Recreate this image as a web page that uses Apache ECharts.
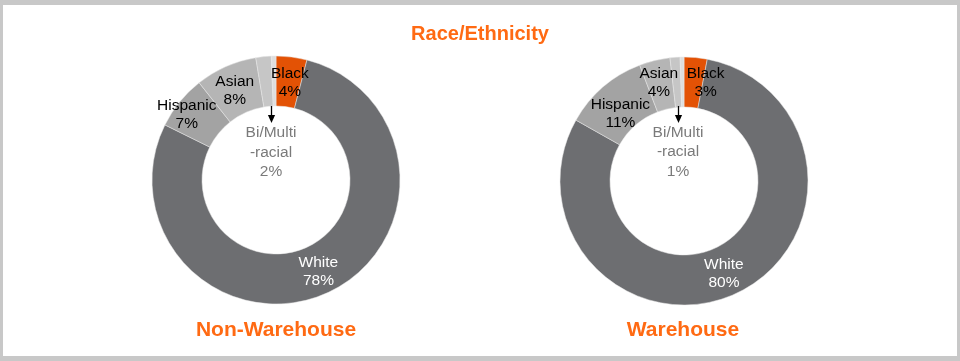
<!DOCTYPE html>
<html><head><meta charset="utf-8">
<script src="https://cdn.jsdelivr.net/npm/echarts@6/dist/echarts.min.js"></script>
<style>html,body{margin:0;padding:0;background:#fff}#c{width:960px;height:361px}</style>
</head><body><div id="c"></div>
<script>
const categories = ['Black', 'White', 'Hispanic', 'Asian', 'Bi/Multi-racial', 'Other'];
const labelNames = ['Black', 'White', 'Hispanic', 'Asian', 'Bi/Multi\n-racial', ''];
const nonWarehouse = [4, 78, 7, 8, 2, 0.6];
const warehouse = [3, 80, 11, 4, 1.3, 0.5];
const chartTitles = ['Non-Warehouse', 'Warehouse'];
const mainTitle = 'Race/Ethnicity';

const colors = ['#e35205', '#6d6e71', '#a3a3a3', '#b5b5b5', '#c6c6c6', '#dedede'];
const labelColors = ['#000', '#fff', '#000', '#000', '#7a7a7a', '#000'];
const offsetsL = [[1, 4], [0, -1], [-10, -1.5], [0, 4.5], [-5, -27.5], [0, 0]];
const offsetsR = [[12, 3], [-3, 0], [3, 10], [-1, 1], [-6, -29], [0, 0]];
const centers = [[276, 180], [684, 181]];

function buildData(values, offsets) {
  return categories.map((c, i) => ({
    name: c,
    value: values[i],
    itemStyle: { color: colors[i] },
    label: {
      show: i !== 5,
      position: i === 4 ? 'center' : 'inside',
      color: labelColors[i],
      offset: offsets[i],
      lineHeight: i === 4 ? 19.5 : 18,
      formatter: labelNames[i] + '\n' + Math.round(values[i]) + '%'
    }
  }));
}

function series(values, offsets, center) {
  return {
    type: 'pie',
    radius: [74, 124],
    center: center,
    startAngle: 90,
    clockwise: true,
    avoidLabelOverlap: false,
    labelLayout: { hideOverlap: false },
    silent: true,
    itemStyle: { borderColor: '#e8e8e8', borderWidth: 0.5 },
    label: { fontFamily: 'Liberation Sans, Arial, sans-serif', fontSize: 15.5 },
    labelLine: { show: false },
    emphasis: { disabled: true },
    data: buildData(values, offsets)
  };
}

function arrow(x) {
  return [
    { type: 'line', shape: { x1: x, y1: 106, x2: x, y2: 117 }, style: { stroke: '#000', lineWidth: 1.3 }, z: 10 },
    { type: 'polygon', shape: { points: [[x - 3.6, 115], [x + 3.6, 115], [x, 123]] }, style: { fill: '#000' }, z: 10 }
  ];
}

const chart = echarts.init(document.getElementById('c'), null, { renderer: 'canvas' });
chart.setOption({
  animation: false,
  title: {
    text: mainTitle, left: 'center', top: 19,
    textStyle: { color: '#ff6a13', fontSize: 20, fontWeight: 'bold', fontFamily: 'Liberation Sans, Arial, sans-serif' }
  },
  series: [series(nonWarehouse, offsetsL, centers[0]), series(warehouse, offsetsR, centers[1])],
  graphic: [
    { type: 'rect', shape: { x: 0, y: 0, width: 960, height: 5 }, style: { fill: '#c8c8c8' } },
    { type: 'rect', shape: { x: 0, y: 356, width: 960, height: 5 }, style: { fill: '#c8c8c8' } },
    { type: 'rect', shape: { x: 0, y: 0, width: 3, height: 361 }, style: { fill: '#c8c8c8' } },
    { type: 'rect', shape: { x: 957, y: 0, width: 3, height: 361 }, style: { fill: '#c8c8c8' } },
    ...arrow(271.5),
    ...arrow(678.5),
    { type: 'text', x: 276, y: 330, style: { text: chartTitles[0], align: 'center', verticalAlign: 'middle', fill: '#ff6a13', font: 'bold 21px "Liberation Sans", Arial, sans-serif' } },
    { type: 'text', x: 683, y: 330, style: { text: chartTitles[1], align: 'center', verticalAlign: 'middle', fill: '#ff6a13', font: 'bold 21px "Liberation Sans", Arial, sans-serif' } }
  ]
});
</script></body></html>
